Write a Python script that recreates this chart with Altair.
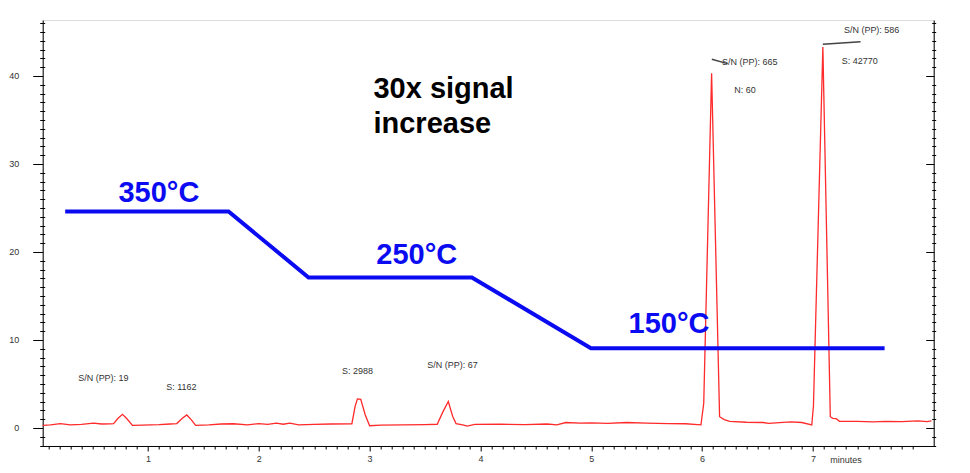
import altair as alt
import pandas as pd

# Chromatogram (minutes, signal)
chrom_t = [0.05, 0.12, 0.21, 0.30, 0.40, 0.51, 0.58, 0.66, 0.69, 0.73, 0.77, 0.81, 0.86, 0.95,
           1.10, 1.20, 1.26, 1.31, 1.35, 1.39, 1.43, 1.55, 1.66, 1.77, 1.90, 2.00, 2.08, 2.16,
           2.22, 2.28, 2.36, 2.50, 2.65, 2.84, 2.87, 2.89, 2.92, 2.96, 3.00, 3.10, 3.30, 3.50,
           3.61, 3.66, 3.71, 3.75, 3.78, 3.84, 3.88, 3.95, 4.18, 4.40, 4.60, 4.69, 4.77, 4.90,
           5.00, 5.15, 5.32, 5.50, 5.70, 5.85, 5.99, 6.015, 6.086, 6.158, 6.20, 6.25, 6.40,
           6.55, 6.60, 6.70, 6.80, 6.90, 6.99, 7.005, 7.09, 7.157, 7.18, 7.21, 7.24, 7.40,
           7.55, 7.65, 7.80, 7.95, 8.03, 8.07]
chrom_v = [0.30, 0.35, 0.49, 0.36, 0.40, 0.55, 0.45, 0.47, 0.50, 1.10, 1.55, 1.05, 0.30, 0.33,
           0.38, 0.45, 0.50, 1.10, 1.48, 0.95, 0.30, 0.35, 0.45, 0.48, 0.35, 0.50, 0.40, 0.55,
           0.42, 0.55, 0.35, 0.40, 0.45, 0.48, 2.50, 3.30, 3.25, 1.50, 0.25, 0.32, 0.35, 0.38,
           0.42, 1.80, 3.00, 1.30, 0.50, 0.35, 0.22, 0.40, 0.42, 0.38, 0.45, 0.35, 0.62, 0.55,
           0.58, 0.52, 0.62, 0.55, 0.50, 0.48, 0.35, 2.80, 40.3, 1.28, 0.95, 0.75, 0.65,
           0.62, 0.52, 0.60, 0.68, 0.62, 0.35, 2.50, 43.3, 1.28, 1.10, 1.05, 0.75, 0.75,
           0.70, 0.75, 0.72, 0.80, 0.72, 0.80]

# Temperature program overlay (drawn in signal units)
prog_t = [0.253, 1.727, 2.449, 3.923, 4.997, 7.647]
prog_v = [24.6, 24.6, 17.1, 17.1, 9.06, 9.06]

temp_labels = ["350°C", "250°C", "150°C"]
temp_x = [0.734, 3.06, 5.337]
temp_y = [25.7, 18.6, 10.83]

note_text = ["S/N (PP): 19", "S: 1162", "S: 2988", "S/N (PP): 67",
             "S/N (PP): 665", "N: 60", "S/N (PP): 586", "S: 42770"]
note_x = [0.37, 1.165, 2.75, 3.52, 6.18, 6.29, 7.28, 7.26]
note_y = [5.68, 4.66, 6.48, 7.16, 41.6, 38.4, 45.2, 41.7]

mark_x1 = [6.088, 7.09]
mark_y1 = [41.9, 43.6]
mark_x2 = [6.229, 7.43]
mark_y2 = [41.4, 43.9]

headline = ["30x signal\nincrease"]
head_x = [3.035]
head_y = [37.47]

x_major = [1, 2, 3, 4, 5, 6, 7]
x_minor = [round(i / 10, 1) for i in range(1, 81) if i % 10 != 0]
y_major = [0, 10, 20, 30, 40]
y_minor = [v for v in range(-2, 47) if v % 10 != 0]

chrom = pd.DataFrame({"t": chrom_t, "v": chrom_v})
prog = pd.DataFrame({"t": prog_t, "v": prog_v})
temps = pd.DataFrame({"label": temp_labels, "t": temp_x, "v": temp_y})
notes = pd.DataFrame({"label": note_text, "t": note_x, "v": note_y})
marks = pd.DataFrame({"t": mark_x1, "v": mark_y1, "t2": mark_x2, "v2": mark_y2})
head = pd.DataFrame({"label": headline, "t": head_x, "v": head_y})

xs = alt.Scale(domain=[0.05, 8.09], nice=False, zero=False)
ys = alt.Scale(domain=[-2.05, 46.36], nice=False, zero=False)
FONT = "Liberation Sans"

common_axis = dict(grid=False, title=None, domainColor="#000", tickColor="#000",
                   labelFont=FONT, labelFontSize=9, labelColor="#333")

red = alt.Chart(chrom).mark_line(color="#ff2a2a", strokeWidth=1.3).encode(
    x=alt.X("t:Q", scale=xs, axis=alt.Axis(
        orient="bottom", values=x_major, tickSize=5, labelPadding=3.5, domain=True,
        grid=False, domainColor="#000", tickColor="#000", labelFont=FONT,
        labelFontSize=9, labelColor="#333", format="d",
        title="minutes", titleFont=FONT, titleFontSize=9, titleFontWeight="normal",
        titleColor="#333", titleX=787, titleY=13.5, titleAlign="left",
        titleBaseline="middle", titleAngle=0)),
    y=alt.Y("v:Q", scale=ys, axis=alt.Axis(
        orient="left", values=y_major, tickSize=10, labelPadding=14, domain=True,
        labelAlign="right", **common_axis)),
)

blue = alt.Chart(prog).mark_line(color="#0b0bf2", strokeWidth=4, strokeCap="butt",
                                 strokeJoin="miter").encode(
    x=alt.X("t:Q", scale=xs, axis=alt.Axis(
        orient="bottom", values=x_minor, tickSize=3, labels=False, domain=False, **common_axis)),
    y=alt.Y("v:Q", scale=ys, axis=alt.Axis(
        orient="left", values=y_minor, tickSize=5, offset=-2, labels=False, domain=False,
        **common_axis)),
)

markers = alt.Chart(marks).mark_rule(color="#444", strokeWidth=1.5).encode(
    x=alt.X("t:Q", scale=xs, axis=None),
    x2="t2:Q",
    y=alt.Y("v:Q", scale=ys, axis=alt.Axis(
        orient="right", values=y_major, tickSize=8, offset=-8, labels=False, domain=False,
        **common_axis)),
    y2="v2:Q",
)

note_layer = alt.Chart(notes).mark_text(align="left", baseline="middle", font=FONT,
                                         fontSize=9, color="#333").encode(
    x=alt.X("t:Q", scale=xs, axis=None),
    y=alt.Y("v:Q", scale=ys, axis=alt.Axis(
        orient="right", values=y_minor, tickSize=4, offset=-2, labels=False, domain=False,
        **common_axis)),
    text="label:N",
)

temp_layer = alt.Chart(temps).mark_text(align="left", baseline="alphabetic", font=FONT,
                                         fontSize=29, fontWeight="bold",
                                         color="#0b0bf2").encode(
    x=alt.X("t:Q", scale=xs, axis=None),
    y=alt.Y("v:Q", scale=ys, axis=alt.Axis(
        orient="right", values=y_major, ticks=False, labels=False, domain=True,
        **common_axis)),
    text="label:N",
)

head_layer = alt.Chart(head).mark_text(align="left", baseline="alphabetic", font=FONT,
                                        fontSize=29, fontWeight="bold", color="#000",
                                        lineBreak="\n", lineHeight=35).encode(
    x=alt.X("t:Q", scale=xs, axis=None),
    y=alt.Y("v:Q", scale=ys, axis=None),
    text="label:N",
)

chart = alt.layer(red, blue, markers, note_layer, temp_layer, head_layer).resolve_axis(
    x="independent", y="independent"
).properties(
    width=891, height=426,
    autosize=alt.AutoSizeParams(type="none"),
    padding={"left": 34.7, "top": 12, "right": 28, "bottom": 18},
).configure_view(stroke=None).configure(background="white")

chart.save("out.html", embed_options={"renderer": "svg", "actions": False})
